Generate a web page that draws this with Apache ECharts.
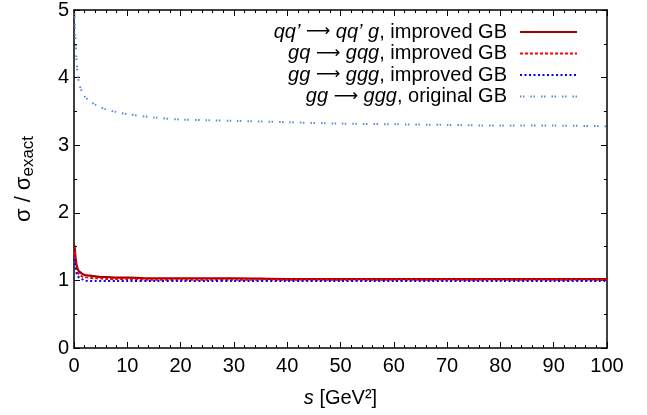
<!DOCTYPE html>
<html>
<head>
<meta charset="utf-8">
<script src="https://cdn.jsdelivr.net/npm/echarts@6/dist/echarts.min.js"></script>
<style>
  html, body { margin: 0; padding: 0; background: #fff; }
  #chart { width: 647px; height: 415px; }
</style>
</head>
<body>
<div id="chart"></div>
<script>
// Centre-of-mass energy squared, s [GeV^2]
const sValues = [0.1, 0.2, 0.3, 0.5, 0.75, 1, 1.5, 2, 3, 4, 5, 6, 8, 10, 15, 20, 25, 30, 40, 50, 60, 70, 80, 90, 100];

// Ratio sigma / sigma_exact for each process
const qqImproved = [1.52, 1.42, 1.33, 1.22, 1.16, 1.13, 1.10, 1.08, 1.07, 1.06, 1.05, 1.05, 1.04, 1.04, 1.03, 1.03, 1.03, 1.03, 1.02, 1.02, 1.02, 1.02, 1.02, 1.02, 1.02];
const gqImproved = [1.42, 1.33, 1.25, 1.16, 1.11, 1.09, 1.06, 1.05, 1.04, 1.03, 1.03, 1.02, 1.02, 1.02, 1.01, 1.01, 1.01, 1.01, 1.01, 1.01, 1.01, 1.01, 1.01, 1.01, 1.01];
const ggImproved = [1.32, 1.24, 1.17, 1.10, 1.06, 1.04, 1.02, 1.00, 0.99, 0.99, 0.99, 0.99, 0.99, 0.99, 0.99, 0.99, 0.99, 0.99, 0.99, 0.99, 0.99, 0.99, 0.99, 0.99, 0.99];
const ggOriginal = [4.95, 4.70, 4.50, 4.22, 4.02, 3.90, 3.79, 3.72, 3.65, 3.60, 3.56, 3.53, 3.49, 3.46, 3.41, 3.38, 3.37, 3.36, 3.34, 3.32, 3.31, 3.30, 3.29, 3.29, 3.28];

const seriesNames = ['qqImproved', 'gqImproved', 'ggImproved', 'ggOriginal'];
const legendLabels = {
  qqImproved: "{i|qq’} {a|⟶} {i|qq’ g}, improved GB",
  gqImproved: "{i|gq} {a|⟶} {i|gqg}, improved GB",
  ggImproved: "{i|gg} {a|⟶} {i|ggg}, improved GB",
  ggOriginal: "{i|gg} {a|⟶} {i|ggg}, original GB"
};

const xTicks = { min: 0, max: 100, interval: 10 };
const yTicks = { min: 0, max: 5, interval: 1 };

const FONT = 'Liberation Sans, Arial, Helvetica, sans-serif';
const FS = 20;

function pairs(ys) {
  return sValues.map((s, i) => [s, ys[i]]);
}

const frameLine = { show: true, onZero: false, lineStyle: { color: '#000', width: 1.5 } };
const tickIn = { show: true, inside: true, length: 6, lineStyle: { color: '#000', width: 1 } };
const minorIn = { show: true, splitNumber: 5, length: 3, lineStyle: { color: '#000', width: 1 } };
const minorInY = { show: true, splitNumber: 2, length: 3, lineStyle: { color: '#000', width: 1 } };
const italic = { fontStyle: 'italic', fontSize: FS, fontFamily: FONT, color: '#000' };
const arrow = { fontSize: 17, fontFamily: 'DejaVu Sans', color: '#000' };

const chart = echarts.init(document.getElementById('chart'), null, { renderer: 'canvas' });

chart.setOption({
  animation: false,
  backgroundColor: '#fff',
  textStyle: { fontFamily: FONT },
  grid: { left: 74, right: 40, top: 10, bottom: 67 },
  legend: {
    orient: 'vertical',
    right: 64,
    top: 17,
    align: 'right',
    itemWidth: 57,
    itemHeight: 14,
    itemGap: 1.5,
    data: seriesNames,
    formatter: name => legendLabels[name],
    itemStyle: { opacity: 0 },
    textStyle: {
      fontFamily: FONT,
      fontSize: FS,
      color: '#000',
      padding: [0, 8, 0, 0],
      rich: { i: italic, a: arrow }
    }
  },
  xAxis: [
    {
      type: 'value', min: xTicks.min, max: xTicks.max, interval: xTicks.interval,
      position: 'bottom',
      axisLine: frameLine, axisTick: tickIn, minorTick: minorIn,
      splitLine: { show: false },
      axisLabel: { color: '#000', fontSize: FS, margin: 8, fontFamily: FONT },
      name: '{i|s} [GeV²]',
      nameLocation: 'middle',
      nameGap: 40,
      nameTextStyle: {
        color: '#000', fontSize: FS, fontFamily: FONT,
        rich: { i: italic }
      }
    },
    {
      type: 'value', min: xTicks.min, max: xTicks.max, interval: xTicks.interval,
      position: 'top',
      axisLine: frameLine, axisTick: tickIn, minorTick: minorIn,
      splitLine: { show: false }, axisLabel: { show: false }
    }
  ],
  yAxis: [
    {
      type: 'value', min: yTicks.min, max: yTicks.max, interval: yTicks.interval,
      position: 'left',
      axisLine: frameLine, axisTick: tickIn, minorTick: minorInY,
      splitLine: { show: false },
      axisLabel: { color: '#000', fontSize: FS, margin: 5, fontFamily: FONT },
      name: 'σ / σ{sub|exact}',
      nameLocation: 'middle',
      nameGap: 37,
      nameRotate: 90,
      nameTextStyle: {
        color: '#000', fontSize: 22, fontFamily: FONT,
        rich: {
          sub: { fontSize: 17, fontFamily: FONT, color: '#000', verticalAlign: 'bottom', padding: [10, 0, 0, 0] }
        }
      }
    },
    {
      type: 'value', min: yTicks.min, max: yTicks.max, interval: yTicks.interval,
      position: 'right',
      axisLine: frameLine, axisTick: tickIn, minorTick: minorInY,
      splitLine: { show: false }, axisLabel: { show: false }
    }
  ],
  series: [
    {
      name: 'qqImproved', type: 'line', data: pairs(qqImproved), smooth: 0.3,
      symbol: 'none', z: 4,
      lineStyle: { color: '#a00000', width: 2.2, type: 'solid' },
      itemStyle: { color: '#a00000' }
    },
    {
      name: 'gqImproved', type: 'line', data: pairs(gqImproved), smooth: 0.3,
      symbol: 'none', z: 5,
      lineStyle: { color: '#ff0000', width: 2, type: [3, 2] },
      itemStyle: { color: '#ff0000' }
    },
    {
      name: 'ggImproved', type: 'line', data: pairs(ggImproved), smooth: 0.3,
      symbol: 'none', z: 6,
      lineStyle: { color: '#0000ff', width: 2, type: [2, 2.5] },
      itemStyle: { color: '#0000ff' }
    },
    {
      name: 'ggOriginal', type: 'line', data: pairs(ggOriginal), smooth: 0.3,
      symbol: 'none', z: 3,
      lineStyle: { color: '#5a8ad0', width: 2, type: [1.5, 1.5, 1.5, 6] },
      itemStyle: { color: '#5a8ad0' }
    }
  ]
});
</script>
</body>
</html>
